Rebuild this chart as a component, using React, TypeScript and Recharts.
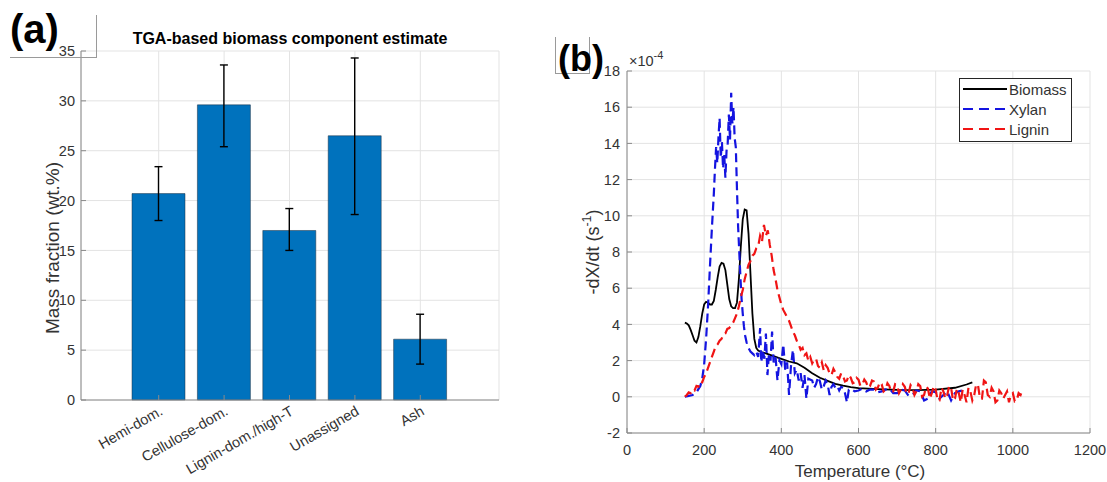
import React from 'react';
import { BarChart, Bar, XAxis, YAxis, CartesianGrid, ErrorBar, LineChart, Line } from 'recharts';

const FONT = "Arial, 'Liberation Sans', Helvetica, sans-serif";

// ---------- Panel (a) data ----------
const componentNames = ['Hemi-dom.', 'Cellulose-dom.', 'Lignin-dom./high-T', 'Unassigned', 'Ash'];
const massFraction = [20.7, 29.6, 17.0, 26.5, 6.1];
const errorLower = [18.0, 25.4, 15.0, 18.6, 3.6];
const errorUpper = [23.4, 33.6, 19.2, 34.3, 8.6];
const massTicks = [0, 5, 10, 15, 20, 25, 30, 35];

// ---------- Panel (b) data (values in units of 1e-4 s^-1) ----------
const tempTicks = [0, 200, 400, 600, 800, 1000, 1200];
const rateTicks = [-2, 0, 2, 4, 6, 8, 10, 12, 14, 16, 18];
const seriesNames = ['Biomass', 'Xylan', 'Lignin'];

const biomassCurve: [number, number][] = [
  [150, 4.1], [155, 4.05], [160, 3.95], [165, 3.7], [170, 3.4], [175, 3.1], [180, 3.0], [185, 3.3], [190, 3.9], [195, 4.6],
  [200, 5.1], [205, 5.25], [210, 5.2], [215, 5.1], [220, 5.1], [225, 5.3], [230, 5.9], [235, 6.6], [240, 7.2], [245, 7.4],
  [250, 7.35], [255, 7.0], [260, 6.2], [265, 5.4], [270, 5.0], [275, 4.9], [280, 4.9], [285, 5.2], [290, 6.5], [295, 8.3],
  [300, 9.8], [305, 10.35], [310, 10.3], [315, 9.0], [320, 6.8], [325, 4.6], [330, 3.2], [335, 2.7], [340, 2.55],
  [350, 2.45], [360, 2.4], [380, 2.25], [400, 2.1], [420, 1.95], [440, 1.85], [460, 1.6], [480, 1.3], [500, 1.05],
  [520, 0.88], [540, 0.72], [560, 0.62], [580, 0.54], [600, 0.48], [650, 0.42], [700, 0.38], [750, 0.37], [800, 0.4],
  [850, 0.5], [880, 0.68], [895, 0.8],
];

const xylanCurve: [number, number][] = [
  [150, 0], [160, 0.05], [170, 0.1], [180, 0.25], [190, 0.6], [195, 1.0], [200, 1.8], [205, 3.2], [210, 5.0], [215, 7.2],
  [220, 9.3], [225, 11.2], [228, 12.6], [231, 13.8], [234, 12.9], [237, 14.3], [240, 15.4], [243, 13.2], [246, 14.1],
  [249, 12.6], [252, 13.4], [255, 12.1], [258, 13.6], [261, 14.0], [264, 15.6], [267, 14.2], [270, 16.8], [273, 15.1],
  [276, 16.0], [279, 14.3], [282, 13.8], [285, 11.5], [288, 9.4], [291, 8.0], [294, 6.6], [297, 5.4], [300, 4.6],
  [303, 3.9], [306, 3.4], [310, 3.0], [315, 2.7], [320, 2.5], [325, 2.4], [330, 2.3], [335, 2.5], [340, 2.2],
  [345, 3.8], [348, 1.9], [352, 2.6], [356, 2.1], [360, 3.5], [364, 1.2], [368, 2.4], [372, 2.0], [376, 3.6],
  [380, 1.9], [385, 2.2], [390, 0.9], [395, 2.0], [400, 1.8], [405, 2.9], [410, 1.5], [415, 1.9], [420, 0.1],
  [425, 1.7], [430, 2.6], [435, 1.3], [440, 1.5], [445, 0.9], [450, 1.3], [455, 0.5], [460, 1.2], [465, -0.1],
  [470, 1.0], [480, 0.9], [485, 0.5], [490, 0.7], [495, 1.1], [500, 0.85], [505, 0.4], [510, 0.6], [515, 0.9],
  [520, 0.7], [525, 0.1], [530, 0.55], [535, 0.7], [540, 0.5], [545, 0.6], [550, 0.35], [555, 0.55], [560, 0.5],
  [565, 0.2], [570, -0.3], [575, 0.4], [580, 0.45], [590, 0.3], [600, 0.35], [610, 0.45], [620, 0.3], [630, 0.4],
  [640, 0.4], [650, 0.25], [660, 0.3], [670, 0.4], [680, 0.45], [690, 0.2], [700, 0.2], [710, 0.4], [720, 0.35],
  [730, 0.05], [740, 0.1], [750, 0.35], [760, 0.3], [770, -0.2], [780, -0.1], [790, 0.3], [800, 0.25], [810, -0.1],
  [820, 0.1], [830, 0.3], [840, -0.2], [850, 0.2], [860, 0.3], [870, 0.35],
];

const ligninCurve: [number, number][] = [
  [150, 0.0], [155, 0.1], [160, 0.25], [165, 0.2], [170, 0.4], [175, 0.35], [180, 0.6], [185, 0.55], [190, 0.85],
  [195, 0.8], [200, 1.1], [205, 1.3], [210, 1.6], [215, 1.9], [220, 2.2], [225, 2.5], [230, 2.8], [235, 2.9],
  [240, 3.1], [245, 3.2], [250, 3.45], [255, 3.5], [260, 3.75], [265, 3.8], [270, 3.95], [275, 4.1], [280, 4.35],
  [285, 4.6], [290, 5.0], [295, 5.5], [300, 5.9], [305, 6.5], [310, 6.9], [315, 7.3], [320, 7.5], [325, 7.8],
  [330, 7.9], [335, 8.2], [340, 8.3], [345, 8.9], [350, 8.6], [355, 9.5], [360, 8.9], [365, 9.2], [370, 8.4],
  [375, 7.8], [380, 7.0], [385, 6.5], [390, 5.9], [395, 5.5], [400, 5.1], [405, 4.8], [410, 4.6], [415, 4.4],
  [420, 4.2], [425, 3.9], [430, 3.6], [435, 3.4], [440, 3.1], [445, 2.9], [450, 2.6], [455, 2.7], [460, 2.3],
  [465, 2.4], [470, 2.0], [475, 2.2], [480, 1.85], [485, 2.05], [490, 2.1], [495, 1.7], [500, 1.6], [505, 1.9],
  [510, 1.45], [515, 1.75], [520, 1.6], [525, 1.3], [530, 1.2], [535, 1.55], [540, 1.35], [545, 1.1], [550, 1.0],
  [555, 1.3], [560, 1.15], [565, 0.85], [570, 0.9], [575, 1.2], [580, 1.05], [585, 0.75], [590, 0.8], [595, 1.05],
  [600, 0.95], [605, 0.6], [610, 0.7], [615, 0.95], [620, 0.8], [625, 0.5], [630, 0.6], [635, 0.9], [640, 0.85],
  [645, 0.4], [650, 0.5], [655, 0.8], [660, 0.7], [665, 0.3], [670, 0.4], [675, 0.75], [680, 0.6], [685, 0.25],
  [690, 0.3], [695, 0.7], [700, 0.65], [705, 0.2], [710, 0.4], [715, 0.7], [720, 0.55], [725, 0.15], [730, 0.2],
  [735, 0.65], [740, 0.5], [745, 0.1], [750, 0.3], [755, 0.7], [760, 0.6], [765, 0.0], [770, 0.1], [775, 0.55],
  [780, 0.45], [785, -0.1], [790, 0.2], [795, 0.6], [800, 0.4], [805, -0.2], [810, -0.2], [815, 0.5], [820, 0.3],
  [825, -0.1], [830, 0.1], [835, 0.6], [840, 0.5], [845, -0.2], [850, -0.1], [855, 0.45], [860, 0.2], [865, -0.3],
  [870, 0.4], [875, 0.1], [880, -0.3], [885, 0.5], [890, 0.3], [895, -0.2], [900, 0.1], [905, 0.7], [910, 0.6],
  [915, -0.1], [920, -0.1], [925, 0.9], [930, 0.8], [935, 0.1], [940, 0.0], [945, 0.5], [950, 0.3], [955, -0.3],
  [960, -0.2], [965, 0.35], [970, 0.2], [975, -0.1], [980, 0.1], [985, 0.3], [990, -0.3], [995, 0.1], [1000, 0.2],
  [1005, -0.25], [1010, -0.2], [1015, 0.2], [1020, 0.1], [1025, 0.4],
];

// ---------- derived tables ----------
const barData = componentNames.map((name, i) => ({
  name,
  value: massFraction[i],
  err: [massFraction[i] - errorLower[i], errorUpper[i] - massFraction[i]],
}));
const toPoints = (c: [number, number][]) => c.map(([t, v]) => ({ t, v }));
const biomassData = toPoints(biomassCurve);
const xylanData = toPoints(xylanCurve);
const ligninData = toPoints(ligninCurve);

const AXIS = '#8a8a8a';
const GRID = '#e3e3e3';
const TICK = '#333333';
const BLUE_BAR = '#0072BD';
const XY_BLUE = '#1414e0';
const LG_RED = '#f01414';

const tickStyle = { fill: TICK, fontSize: 14.5, fontFamily: FONT };

const SlantTick = (props: any) => {
  const { x, y, payload } = props;
  return (
    <g transform={`translate(${x + 5},${y + 14}) rotate(-30)`}>
      <text x={0} y={0} textAnchor="end" fill={TICK} fontSize={14.5} fontFamily={FONT}>
        {payload.value}
      </text>
    </g>
  );
};

const legendItems = [
  { name: seriesNames[0], color: '#000000', dash: undefined as string | undefined },
  { name: seriesNames[1], color: XY_BLUE, dash: '10 6' },
  { name: seriesNames[2], color: LG_RED, dash: '10 6' },
];

export default function App() {
  return (
    <div style={{ position: 'absolute', left: 0, top: 0, width: 1107, height: 482, background: '#fff', fontFamily: FONT, overflow: 'hidden' }}>
      {/* Panel (a) */}
      <div style={{ position: 'absolute', left: 0, top: 0 }}>
        <BarChart width={540} height={482} data={barData} margin={{ top: 51, right: 41, bottom: 12, left: 41 }}>
          <CartesianGrid stroke={GRID} strokeWidth={1} />
          <XAxis
            dataKey="name"
            height={70}
            padding={{ left: 45, right: 46 }}
            tickSize={-5}
            tickMargin={5}
            stroke={AXIS}
            tick={<SlantTick />}
            interval={0}
          />
          <XAxis xAxisId="top" orientation="top" dataKey="name" height={0} padding={{ left: 45, right: 46 }} tick={false} tickSize={-5} stroke={AXIS} />
          <YAxis
            domain={[0, 35]}
            ticks={massTicks}
            width={40}
            tickSize={-5}
            tickMargin={11}
            stroke={AXIS}
            tick={tickStyle}
            interval={0}
          />
          <YAxis yAxisId="right" orientation="right" domain={[0, 35]} ticks={massTicks} width={0} tick={false} tickSize={-5} stroke={AXIS} />
          <Bar dataKey="value" fill={BLUE_BAR} stroke="#1f2f3f" strokeWidth={0.5} barSize={53} isAnimationActive={false}>
            <ErrorBar dataKey="err" width={4} strokeWidth={1.4} stroke="#000" direction="y" />
          </Bar>
        </BarChart>
      </div>

      {/* Panel (b) */}
      <div style={{ position: 'absolute', left: 550, top: 0 }}>
        <LineChart width={557} height={482} margin={{ top: 71, right: 17, bottom: 19, left: 37 }}>
          <CartesianGrid stroke={GRID} strokeWidth={1} />
          <XAxis
            type="number"
            dataKey="t"
            domain={[0, 1200]}
            ticks={tempTicks}
            height={30}
            tickSize={-5}
            tickMargin={17}
            stroke={AXIS}
            tick={tickStyle}
            interval={0}
            allowDataOverflow
          />
          <XAxis xAxisId="top" orientation="top" type="number" dataKey="t" domain={[0, 1200]} ticks={tempTicks} height={0} tick={false} tickSize={-5} stroke={AXIS} allowDataOverflow />
          <YAxis
            domain={[-2, 18]}
            ticks={rateTicks}
            width={40}
            tickSize={-5}
            tickMargin={12}
            stroke={AXIS}
            tick={tickStyle}
            interval={0}
            allowDataOverflow
          />
          <YAxis yAxisId="right" orientation="right" domain={[-2, 18]} ticks={rateTicks} width={0} tick={false} tickSize={-5} stroke={AXIS} allowDataOverflow />
          <Line data={biomassData} dataKey="v" name={seriesNames[0]} stroke="#000" strokeWidth={1.8} dot={false} type="linear" isAnimationActive={false} />
          <Line data={xylanData} dataKey="v" name={seriesNames[1]} stroke={XY_BLUE} strokeWidth={2.2} strokeDasharray="9 5" dot={false} type="linear" isAnimationActive={false} />
          <Line data={ligninData} dataKey="v" name={seriesNames[2]} stroke={LG_RED} strokeWidth={2.2} strokeDasharray="9 5" dot={false} type="linear" isAnimationActive={false} />
        </LineChart>
      </div>

      {/* Overlay texts and decorations */}
      <div style={{ position: 'absolute', left: 10, top: 15, width: 86, height: 42, borderRight: '1px solid #9a9a9a', borderBottom: '1px solid #9a9a9a' }} />
      <div style={{ position: 'absolute', left: 10, top: 9, fontSize: 40, fontWeight: 700, lineHeight: 1, color: '#000' }}>(a)</div>

      <div style={{ position: 'absolute', left: 555, top: 37, width: 33, height: 36, borderLeft: '1px solid #9a9a9a', borderRight: '1px solid #9a9a9a', borderBottom: '1px solid #9a9a9a' }} />
      <div style={{ position: 'absolute', left: 558, top: 41, fontSize: 36, fontWeight: 700, lineHeight: 1, color: '#000' }}>(b)</div>

      <div style={{ position: 'absolute', left: 81, width: 418, top: 31, textAlign: 'center', fontSize: 16, fontWeight: 700, lineHeight: 1, color: '#000', whiteSpace: 'nowrap' }}>
        TGA-based biomass component estimate
      </div>

      <div style={{ position: 'absolute', left: 52, top: 248, transform: 'translate(-50%, -50%) rotate(-90deg)', fontSize: 19, lineHeight: 1, color: TICK, whiteSpace: 'nowrap' }}>
        Mass fraction (wt.%)
      </div>

      <div style={{ position: 'absolute', left: 629, top: 54, fontSize: 14.5, lineHeight: 1, color: TICK, whiteSpace: 'nowrap' }}>
        ×10<sup style={{ fontSize: 11, verticalAlign: 'baseline', position: 'relative', top: -7 }}>-4</sup>
      </div>

      <div style={{ position: 'absolute', left: 593, top: 252, transform: 'translate(-50%, -50%) rotate(-90deg)', fontSize: 18, lineHeight: 1, color: TICK, whiteSpace: 'nowrap' }}>
        -dX/dt (s<sup style={{ fontSize: 12.5, verticalAlign: 'baseline', position: 'relative', top: -8 }}>-1</sup>)
      </div>

      <div style={{ position: 'absolute', left: 860, top: 463, transform: 'translateX(-50%)', fontSize: 17, lineHeight: 1, color: TICK, whiteSpace: 'nowrap' }}>
        Temperature (°C)
      </div>

      {/* Legend (b) */}
      <div style={{ position: 'absolute', left: 959, top: 78, width: 113, height: 64, border: '1px solid #262626', background: '#fff', boxSizing: 'border-box' }}>
        {legendItems.map((it) => (
          <div key={it.name} style={{ display: 'flex', alignItems: 'center', height: 20 }}>
            <svg width={48} height={20} style={{ display: 'block' }}>
              <line x1={3} x2={47} y1={10} y2={10} stroke={it.color} strokeWidth={2} strokeDasharray={it.dash} />
            </svg>
            <span style={{ fontSize: 15, color: TICK, marginLeft: 1, lineHeight: 1 }}>{it.name}</span>
          </div>
        ))}
      </div>
    </div>
  );
}
